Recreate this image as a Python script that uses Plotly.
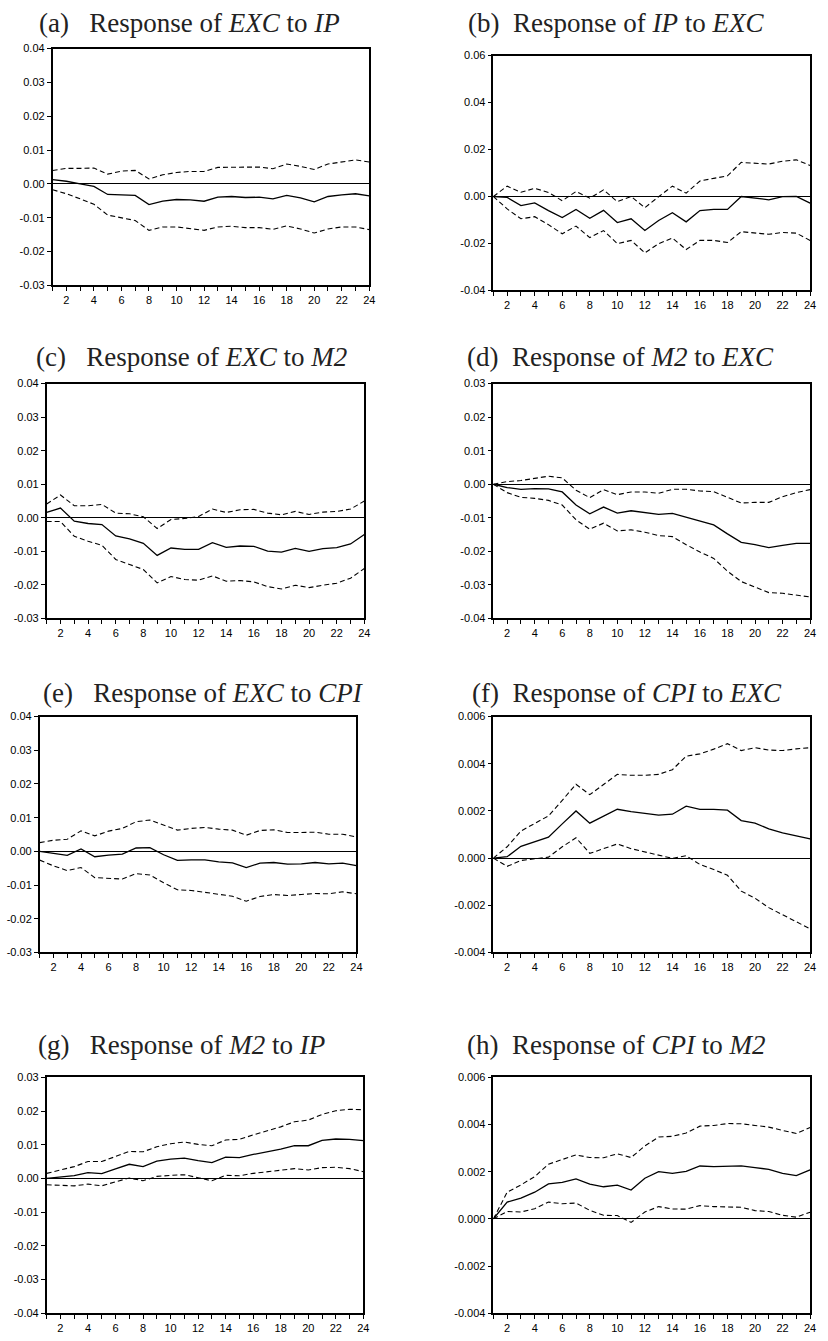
import plotly.graph_objects as go

W, H = 828, 1341

periods = list(range(1, 25))
x_tickvals = list(range(1, 25))
x_ticktext = ["" if p % 2 else str(p) for p in periods]

# (a) Response of EXC to IP
a_irf = [0.0013, 0.0008, 0.0000, -0.0007, -0.0031, -0.0032, -0.0034, -0.0061, -0.0051, -0.0046, -0.0047, -0.0051,
         -0.0039, -0.0037, -0.0040, -0.0039, -0.0044, -0.0034, -0.0041, -0.0053, -0.0037, -0.0032, -0.0029, -0.0035]
a_up = [0.0040, 0.0046, 0.0046, 0.0047, 0.0029, 0.0038, 0.0040, 0.0015, 0.0027, 0.0034, 0.0037, 0.0037,
        0.0049, 0.0049, 0.0049, 0.0050, 0.0045, 0.0059, 0.0052, 0.0043, 0.0059, 0.0065, 0.0071, 0.0065]
a_lo = [-0.0017, -0.0029, -0.0044, -0.0060, -0.0092, -0.0100, -0.0108, -0.0137, -0.0127, -0.0127, -0.0132, -0.0137,
        -0.0127, -0.0125, -0.0129, -0.0129, -0.0134, -0.0124, -0.0133, -0.0145, -0.0133, -0.0127, -0.0127, -0.0135]

# (b) Response of IP to EXC
b_irf = [0.0, -0.0004, -0.0039, -0.0027, -0.0060, -0.0090, -0.0055, -0.0093, -0.0059, -0.0111, -0.0095, -0.0145,
         -0.0102, -0.0069, -0.0108, -0.0060, -0.0055, -0.0055, 0.0000, -0.0008, -0.0014, -0.0001, 0.0000, -0.0028]
b_up = [0.0, 0.0044, 0.0018, 0.0035, 0.0017, -0.0018, 0.0021, -0.0007, 0.0028, -0.0022, 0.0000, -0.0048,
        -0.0001, 0.0044, 0.0014, 0.0066, 0.0077, 0.0088, 0.0145, 0.0142, 0.0138, 0.0150, 0.0156, 0.0132]
b_lo = [0.0, -0.0053, -0.0095, -0.0086, -0.0120, -0.0159, -0.0126, -0.0175, -0.0145, -0.0201, -0.0187, -0.0240,
        -0.0201, -0.0177, -0.0226, -0.0187, -0.0187, -0.0196, -0.0150, -0.0156, -0.0161, -0.0153, -0.0156, -0.0187]

# (c) Response of EXC to M2
c_irf = [0.0016, 0.0029, -0.0010, -0.0017, -0.0020, -0.0054, -0.0063, -0.0076, -0.0112, -0.0090, -0.0094, -0.0094,
         -0.0074, -0.0088, -0.0084, -0.0085, -0.0099, -0.0102, -0.0091, -0.0100, -0.0092, -0.0089, -0.0078, -0.0050]
c_up = [0.0041, 0.0068, 0.0036, 0.0036, 0.0040, 0.0014, 0.0012, 0.0003, -0.0032, -0.0005, -0.0002, 0.0004,
        0.0026, 0.0016, 0.0024, 0.0025, 0.0014, 0.0009, 0.0019, 0.0010, 0.0017, 0.0019, 0.0026, 0.0050]
c_lo = [-0.0011, -0.0011, -0.0055, -0.0070, -0.0082, -0.0124, -0.0139, -0.0154, -0.0194, -0.0175, -0.0184, -0.0186,
        -0.0173, -0.0189, -0.0187, -0.0191, -0.0205, -0.0212, -0.0201, -0.0208, -0.0201, -0.0195, -0.0180, -0.0151]

# (d) Response of M2 to EXC
d_irf = [0.0, -0.0010, -0.0015, -0.0013, -0.0014, -0.0023, -0.0062, -0.0088, -0.0068, -0.0086, -0.0079, -0.0084,
         -0.0090, -0.0087, -0.0098, -0.0111, -0.0121, -0.0148, -0.0173, -0.0180, -0.0189, -0.0182, -0.0176, -0.0176]
d_up = [0.0, 0.0008, 0.0011, 0.0018, 0.0024, 0.0019, -0.0018, -0.0040, -0.0016, -0.0031, -0.0023, -0.0023,
        -0.0027, -0.0015, -0.0015, -0.0020, -0.0022, -0.0039, -0.0056, -0.0054, -0.0054, -0.0037, -0.0025, -0.0016]
d_lo = [0.0, -0.0025, -0.0039, -0.0042, -0.0048, -0.0062, -0.0106, -0.0134, -0.0116, -0.0139, -0.0136, -0.0143,
        -0.0153, -0.0156, -0.0180, -0.0202, -0.0221, -0.0259, -0.0290, -0.0306, -0.0323, -0.0325, -0.0330, -0.0336]

# (e) Response of EXC to CPI
e_irf = [0.0, -0.0006, -0.0012, 0.0007, -0.0016, -0.0011, -0.0008, 0.0010, 0.0011, -0.0010, -0.0027, -0.0025,
         -0.0025, -0.0031, -0.0034, -0.0048, -0.0035, -0.0033, -0.0038, -0.0037, -0.0033, -0.0037, -0.0035, -0.0042]
e_up = [0.0026, 0.0033, 0.0036, 0.0061, 0.0046, 0.0060, 0.0068, 0.0088, 0.0093, 0.0078, 0.0063, 0.0068,
        0.0071, 0.0066, 0.0063, 0.0048, 0.0062, 0.0064, 0.0056, 0.0056, 0.0057, 0.0051, 0.0051, 0.0043]
e_lo = [-0.0026, -0.0043, -0.0057, -0.0048, -0.0078, -0.0080, -0.0082, -0.0066, -0.0070, -0.0093, -0.0114, -0.0116,
        -0.0121, -0.0127, -0.0133, -0.0148, -0.0134, -0.0128, -0.0131, -0.0128, -0.0125, -0.0126, -0.0120, -0.0126]

# (f) Response of CPI to EXC
f_irf = [0.0, 0.00006, 0.00050, 0.00070, 0.00089, 0.00145, 0.00200, 0.00148, 0.00177, 0.00207, 0.00197, 0.00190,
         0.00182, 0.00186, 0.00220, 0.00207, 0.00207, 0.00203, 0.00159, 0.00148, 0.00124, 0.00107, 0.00094, 0.00082]
f_up = [0.0, 0.00048, 0.00115, 0.00146, 0.00179, 0.00245, 0.00313, 0.00269, 0.00313, 0.00355, 0.00351, 0.00351,
        0.00355, 0.00375, 0.00432, 0.00442, 0.00462, 0.00485, 0.00456, 0.00468, 0.00458, 0.00456, 0.00463, 0.00468]
f_lo = [0.0, -0.00035, -0.00010, -0.00004, 0.00004, 0.00048, 0.00086, 0.00020, 0.00040, 0.00060, 0.00040, 0.00027,
        0.00013, -0.00001, 0.00010, -0.00027, -0.00048, -0.00073, -0.00140, -0.00170, -0.00210, -0.00240, -0.00270, -0.00300]

# (g) Response of M2 to IP
g_irf = [0.0, 0.0003, 0.0008, 0.0017, 0.0014, 0.0028, 0.0042, 0.0035, 0.0051, 0.0057, 0.0060, 0.0053,
         0.0047, 0.0063, 0.0062, 0.0071, 0.0078, 0.0087, 0.0097, 0.0097, 0.0113, 0.0117, 0.0116, 0.0112]
g_up = [0.0015, 0.0026, 0.0035, 0.0050, 0.0050, 0.0065, 0.0080, 0.0079, 0.0094, 0.0103, 0.0108, 0.0101,
        0.0097, 0.0114, 0.0116, 0.0129, 0.0140, 0.0153, 0.0168, 0.0173, 0.0190, 0.0201, 0.0205, 0.0204]
g_lo = [-0.0019, -0.0021, -0.0022, -0.0017, -0.0022, -0.0010, 0.0001, -0.0007, 0.0006, 0.0009, 0.0011, 0.0002,
        -0.0007, 0.0009, 0.0008, 0.0015, 0.0019, 0.0025, 0.0029, 0.0025, 0.0032, 0.0033, 0.0029, 0.0020]

# (h) Response of CPI to M2
h_irf = [0.0, 0.00071, 0.00088, 0.00113, 0.00148, 0.00155, 0.00169, 0.00147, 0.00136, 0.00143, 0.00122, 0.00172,
         0.00200, 0.00193, 0.00201, 0.00224, 0.00221, 0.00224, 0.00225, 0.00217, 0.00210, 0.00193, 0.00183, 0.00208]
h_up = [0.0, 0.00113, 0.00144, 0.00179, 0.00232, 0.00250, 0.00271, 0.00260, 0.00259, 0.00276, 0.00260, 0.00309,
        0.00347, 0.00350, 0.00364, 0.00393, 0.00396, 0.00404, 0.00403, 0.00396, 0.00389, 0.00375, 0.00362, 0.00387]
h_lo = [0.0, 0.00031, 0.00029, 0.00043, 0.00071, 0.00064, 0.00067, 0.00036, 0.00015, 0.00014, -0.00015, 0.00029,
        0.00052, 0.00042, 0.00041, 0.00056, 0.00052, 0.00050, 0.00049, 0.00035, 0.00031, 0.00015, 0.00007, 0.00028]

# y tick sets
yt_a = [-0.03, -0.02, -0.01, 0.0, 0.01, 0.02, 0.03, 0.04]
yl_a = ["-0.03", "-0.02", "-0.01", "0.00", "0.01", "0.02", "0.03", "0.04"]
yt_b = [-0.04, -0.02, 0.0, 0.02, 0.04, 0.06]
yl_b = ["-0.04", "-0.02", "0.00", "0.02", "0.04", "0.06"]
yt_d = [-0.04, -0.03, -0.02, -0.01, 0.0, 0.01, 0.02, 0.03]
yl_d = ["-0.04", "-0.03", "-0.02", "-0.01", "0.00", "0.01", "0.02", "0.03"]
yt_f = [-0.004, -0.002, 0.0, 0.002, 0.004, 0.006]
yl_f = ["-0.004", "-0.002", "0.000", "0.002", "0.004", "0.006"]

titles = [
    "(a)&nbsp;&nbsp; Response of <i>EXC</i> to <i>IP</i>",
    "(b)&nbsp; Response of <i>IP</i> to <i>EXC</i>",
    "(c)&nbsp;&nbsp; Response of <i>EXC</i> to <i>M2</i>",
    "(d)&nbsp; Response of <i>M2</i> to <i>EXC</i>",
    "(e)&nbsp;&nbsp; Response of <i>EXC</i> to <i>CPI</i>",
    "(f)&nbsp; Response of <i>CPI</i> to <i>EXC</i>",
    "(g)&nbsp;&nbsp; Response of <i>M2</i> to <i>IP</i>",
    "(h)&nbsp; Response of <i>CPI</i> to <i>M2</i>",
]

panels = [
    (a_irf, a_up, a_lo, yt_a, yl_a),
    (b_irf, b_up, b_lo, yt_b, yl_b),
    (c_irf, c_up, c_lo, yt_a, yl_a),
    (d_irf, d_up, d_lo, yt_d, yl_d),
    (e_irf, e_up, e_lo, yt_a, yl_a),
    (f_irf, f_up, f_lo, yt_f, yl_f),
    (g_irf, g_up, g_lo, yt_d, yl_d),
    (h_irf, h_up, h_lo, yt_f, yl_f),
]

# layout geometry (pixels): plot box left, right, top, bottom; title centre
boxes = [
    (53, 372, 43, 282), (497, 816, 50, 287),
    (47, 367, 381, 618), (497, 816, 381, 618),
    (40, 359, 717, 955), (497, 816, 717, 955),
    (47, 366, 1081, 1319), (497, 816, 1081, 1319),
]
title_pos = [
    (191, 17), (620, 17),
    (193, 354), (625, 354),
    (205, 693), (632, 693),
    (183, 1048), (620, 1048),
]

fig = go.Figure()
layout = dict(
    width=W, height=H, margin=dict(l=0, r=0, t=0, b=0),
    paper_bgcolor="white", plot_bgcolor="white", showlegend=False,
    annotations=[],
)

tick_font = dict(family="Liberation Sans, Arial, sans-serif", size=11, color="black")

for i, ((irf, up, lo, yt, yl), (l, r, t, b), (tx, ty), title) in enumerate(zip(panels, boxes, title_pos, titles)):
    n = i + 1
    xa = "x" if n == 1 else f"x{n}"
    ya = "y" if n == 1 else f"y{n}"
    for vals, dash, w in ((up, "5px,3px", 1.1), (lo, "5px,3px", 1.1), (irf, "solid", 1.3)):
        fig.add_trace(go.Scatter(x=periods, y=vals, mode="lines",
                                 line=dict(color="black", width=w, dash=dash),
                                 xaxis=xa, yaxis=ya, hoverinfo="skip"))
    xkey = "xaxis" if n == 1 else f"xaxis{n}"
    ykey = "yaxis" if n == 1 else f"yaxis{n}"
    layout[xkey] = dict(
        domain=[l / W, r / W], anchor=ya, range=[1, 24],
        tickmode="array", tickvals=x_tickvals, ticktext=x_ticktext,
        ticks="outside", ticklen=4, tickwidth=1, tickcolor="black",
        showline=True, mirror=True, linecolor="black", linewidth=1.5,
        showgrid=False, zeroline=False, tickfont=tick_font,
    )
    layout[ykey] = dict(
        domain=[1 - b / H, 1 - t / H], anchor=xa, range=[yt[0], yt[-1]],
        tickmode="array", tickvals=yt, ticktext=yl,
        ticks="outside", ticklen=4, tickwidth=1, tickcolor="black",
        showline=True, mirror=True, linecolor="black", linewidth=1.5,
        showgrid=False, zeroline=True, zerolinecolor="black", zerolinewidth=1,
        tickfont=tick_font,
    )
    layout["annotations"].append(dict(
        text=title, x=tx / W, y=1 - ty / H, xref="paper", yref="paper",
        xanchor="center", yanchor="middle", showarrow=False,
        font=dict(family="Liberation Serif, Times New Roman, serif", size=27, color="#222222"),
    ))

fig.update_layout(**layout)
fig.write_html("out.html", config={"displayModeBar": False},
               post_script="document.body.style.margin='0';document.body.style.overflow='hidden';")
